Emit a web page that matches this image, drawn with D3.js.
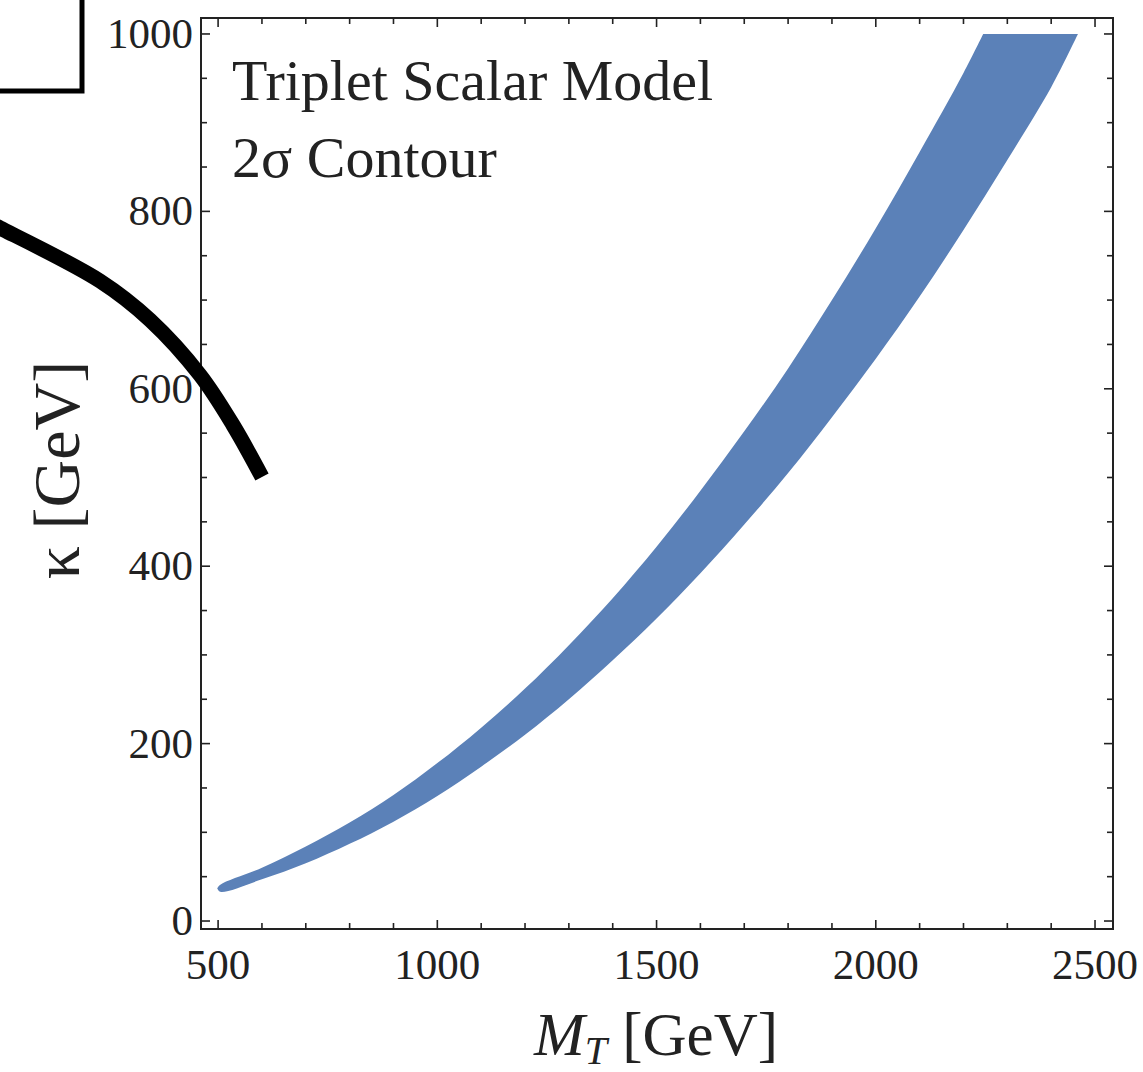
<!DOCTYPE html>
<html lang="en">
  <head>
    <meta charset="utf-8">
    <title>Triplet Scalar Model</title>
    <script src="https://d3js.org/d3.v7.min.js"></script>
    <style>
      body { margin: 0; background: #fff; }
      svg text { font-family: "Liberation Serif", "DejaVu Serif", serif; fill: #222; }
    </style>
  </head>
  <body>
    <svg id="plotarea" width="1143" height="1072"></svg>
    <script>
      // edges of the 2 sigma band (M_T in GeV, kappa in GeV)
      var upperM     = [505, 600, 700, 800, 900, 1000, 1100, 1200, 1300, 1400, 1500, 1600, 1700, 1800, 1900, 2000, 2100, 2200, 2245];
      var upperKappa = [41, 60, 84, 111, 142, 178, 218, 262, 311, 364, 422, 485, 552, 623, 700, 781, 867, 956, 1000];
      var lowerM     = [505, 600, 700, 800, 900, 1000, 1100, 1200, 1300, 1400, 1500, 1600, 1700, 1800, 1900, 2000, 2100, 2200, 2300, 2400, 2461];
      var lowerKappa = [33, 47, 65, 87, 112, 141, 174, 210, 250, 294, 341, 392, 447, 505, 568, 634, 704, 779, 858, 940, 1000];

      var xTicks = [500, 1000, 1500, 2000, 2500];
      var yTicks = [0, 200, 400, 600, 800, 1000];
      var xMinor = d3.range(500, 2501, 100);
      var yMinor = d3.range(0, 1001, 50);

      var notes = ["Triplet Scalar Model", "2\u03c3 Contour"];

      var svg = d3.select('#plotarea');
      var fLeft = 201, fRight = 1113, fTop = 18, fBottom = 929;

      var x = d3.scaleLinear().domain([461, 2541]).range([fLeft, fRight]);
      var y = d3.scaleLinear().domain([-9, 1018]).range([fBottom, fTop]);

      // band: smooth upper edge, flat top, smooth lower edge back down, round nose
      var upper = [[498, 37]].concat(upperM.map(function(m, i) { return [m, upperKappa[i]]; }));
      var lower = lowerM.map(function(m, i) { return [m, lowerKappa[i]]; }).reverse();
      lower.push([498, 37]);

      var edge = d3.line()
        .x(function(d){ return x(d[0]); })
        .y(function(d){ return y(d[1]); })
        .curve(d3.curveCatmullRom);

      svg.append('path')
        .attr('fill', '#5b81b8')
        .attr('d', edge(upper) + edge(lower).replace(/^M/, 'L') + 'Z');

      // frame
      svg.append('rect')
        .attr('x', fLeft).attr('y', fTop)
        .attr('width', fRight - fLeft).attr('height', fBottom - fTop)
        .attr('fill', 'none').attr('stroke', '#222').attr('stroke-width', 2);

      // ticks on all four sides, pointing in
      function tickLen(v, majors) { return majors.indexOf(v) >= 0 ? 9 : 6; }
      var tk = svg.append('g').attr('stroke', '#222').attr('stroke-width', 1.6);
      xMinor.forEach(function(v) {
        var l = tickLen(v, xTicks);
        tk.append('line').attr('x1', x(v)).attr('x2', x(v)).attr('y1', fBottom).attr('y2', fBottom - l);
        tk.append('line').attr('x1', x(v)).attr('x2', x(v)).attr('y1', fTop).attr('y2', fTop + l);
      });
      yMinor.forEach(function(v) {
        var l = tickLen(v, yTicks);
        tk.append('line').attr('y1', y(v)).attr('y2', y(v)).attr('x1', fLeft).attr('x2', fLeft + l);
        tk.append('line').attr('y1', y(v)).attr('y2', y(v)).attr('x1', fRight).attr('x2', fRight - l);
      });

      svg.selectAll('text.xt').data(xTicks).enter().append('text')
        .attr('class', 'xt')
        .attr('x', function(d){ return x(d); })
        .attr('y', 979)
        .attr('text-anchor', 'middle')
        .attr('font-size', 43)
        .text(function(d){ return d; });

      svg.selectAll('text.yt').data(yTicks).enter().append('text')
        .attr('class', 'yt')
        .attr('x', 193)
        .attr('y', function(d){ return y(d) + 14; })
        .attr('text-anchor', 'end')
        .attr('font-size', 43)
        .text(function(d){ return d; });

      // axis labels
      var xl = svg.append('text').attr('x', 656).attr('y', 1055).attr('text-anchor', 'middle').attr('font-size', 61);
      xl.append('tspan').attr('font-style', 'italic').text('M');
      xl.append('tspan').attr('font-style', 'italic').attr('font-size', 40).attr('dy', 9).text('T');
      xl.append('tspan').attr('dy', -9).text(' [GeV]');

      svg.append('text')
        .attr('transform', 'translate(79,470) rotate(-90)')
        .attr('text-anchor', 'middle')
        .attr('font-size', 66)
        .text('\u03ba [GeV]');

      svg.selectAll('text.note').data(notes).enter().append('text')
        .attr('class', 'note')
        .attr('x', 232)
        .attr('y', function(d, i){ return 100 + i * 77; })
        .attr('font-size', 58)
        .text(function(d){ return d; });

      // overlay marks on top of the figure
      svg.append('rect')
        .attr('x', -20).attr('y', -20).attr('width', 102).attr('height', 111)
        .attr('fill', 'none').attr('stroke', '#000').attr('stroke-width', 5);

      var arc = [[-10, 223], [0, 228], [100, 281], [150, 320], [200, 375], [233, 425], [262, 477]];
      svg.append('path')
        .datum(arc)
        .attr('fill', 'none').attr('stroke', '#000').attr('stroke-width', 15)
        .attr('d', d3.line().curve(d3.curveCatmullRom));
    </script>
  </body>
</html>
